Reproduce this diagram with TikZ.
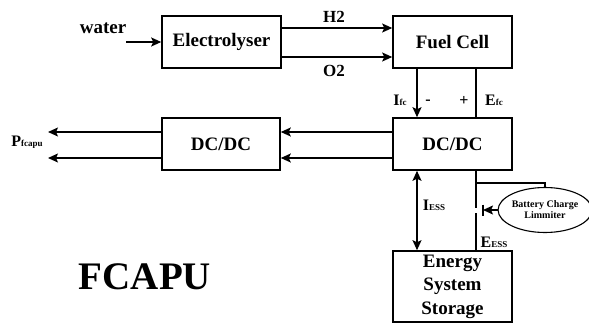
\documentclass[tikz,border=0pt]{standalone}
\usepackage{fontspec}
\setmainfont{Liberation Serif}
\usetikzlibrary{arrows.meta,shapes.geometric}
\newcommand\sbx[1]{{\fontsize{9}{9}\selectfont #1}}
\begin{document}
\begin{tikzpicture}[x=1pt,y=-1pt,
  box/.style={draw, line width=1.6pt, inner sep=0pt, minimum width=119pt,
    font=\fontsize{19}{23.5}\selectfont\bfseries, align=center},
  conn/.style={line width=1.3pt},
  tipa/.tip={Stealth[length=10pt,width=9pt,inset=2pt]},
  arr/.style={conn, -tipa},
  lbl/.style={inner sep=0pt, font=\fontsize{19}{22}\selectfont\bfseries},
  sublbl/.style={inner sep=0pt, font=\fontsize{16}{18}\selectfont\bfseries}]
\useasboundingbox (0,0) rectangle (589,324);
% blocks
\node[box, minimum height=52pt] (el) at (221.5,42) {Electrolyser};
\node[box, minimum height=52pt] (fc) at (452.5,42) {Fuel Cell};
\node[box, minimum height=52pt] (dc2) at (452.5,144) {DC/DC};
\node[box, minimum height=52pt, minimum width=118pt] (dc1) at (221,144) {DC/DC};
\node[box, minimum height=71pt] (ess) at (452.5,286.5) {Energy\\System\\Storage};
\node[draw, ellipse, line width=1.1pt, minimum width=89pt, minimum height=45pt,
  inner sep=0pt, align=center, font=\fontsize{10}{11}\selectfont\bfseries]
  (bcl) at (545,210) {Battery Charge\\Limmiter};
% coordinates
\coordinate (w) at (126,42);
\coordinate (p1) at (48,132);
\coordinate (p2) at (48,158);
\coordinate (sw1) at (476,208);
\coordinate (sw2) at (476,213);
\coordinate (br) at (476,183);
\coordinate (bt) at (483,210);
% connectors
\draw[arr] (w) -- (el.west);
\draw[arr] ([yshift=14pt]el.east) -- ([yshift=14pt]fc.west);
\draw[arr] ([yshift=-15pt]el.east) -- ([yshift=-15pt]fc.west);
\draw[arr] ([xshift=-35.5pt]fc.south) -- ([xshift=-35.5pt]dc2.north);
\draw[conn] ([xshift=23.5pt]fc.south) -- ([xshift=23.5pt]dc2.north);
\draw[arr] ([yshift=12pt]dc2.west) -- ([yshift=12pt]dc1.east);
\draw[arr] ([yshift=-14pt]dc2.west) -- ([yshift=-14pt]dc1.east);
\draw[arr] ([yshift=12pt]dc1.west) -- (p1);
\draw[arr] ([yshift=-14pt]dc1.west) -- (p2);
\draw[conn, tipa-tipa] ([xshift=-35.5pt]dc2.south) -- ([xshift=-35.5pt]ess.north);
\draw[conn] ([xshift=23.5pt]dc2.south) -- (sw1);
\draw[conn] (sw2) -- ([xshift=23.5pt]ess.north);
\draw[conn] (br) -- (br -| bcl.north) -- (bcl.north);
\draw[arr] (bcl.west) -- (bt);
\draw[conn] ([yshift=5.5pt]bt) -- ([yshift=-5.5pt]bt);
% labels
\node[lbl] (lw) at (103,28) {water};
\node[lbl, font=\fontsize{17}{20}\selectfont\bfseries] (lh) at (334,17) {H2};
\node[lbl, font=\fontsize{17}{20}\selectfont\bfseries] (lo) at (334,71) {O2};
\node[sublbl] (lifc) at (400,100) {I\sbx{fc}};
\node[sublbl] (lm) at (428,102) {-};
\node[sublbl] (lp) at (464,101) {+};
\node[sublbl] (lefc) at (494,100) {E\sbx{fc}};
\node[sublbl] (lpf) at (27,142) {P\sbx{fcapu}};
\node[sublbl] (liess) at (434,205) {I\sbx{ESS}};
\node[sublbl] (leess) at (494,242) {E\sbx{ESS}};
\node[lbl, font=\fontsize{39}{44}\selectfont\bfseries] (lfcapu) at (145,277) {FCAPU};
\end{tikzpicture}
\end{document}
